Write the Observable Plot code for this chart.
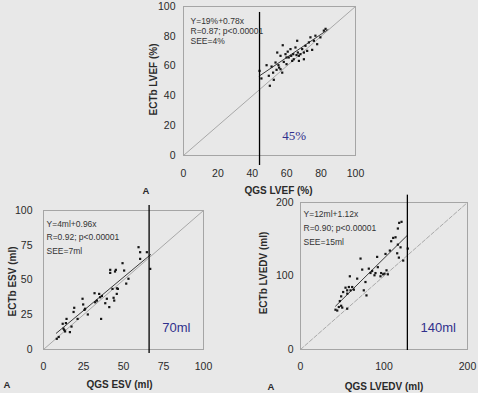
<!DOCTYPE html>
<html><head><meta charset="utf-8">
<script src="https://cdn.jsdelivr.net/npm/d3@7"></script>
<script src="https://cdn.jsdelivr.net/npm/@observablehq/plot@0.6"></script>
<style>
html,body{margin:0;padding:0;background:#e8e8e8;}
#wrap{position:relative;width:478px;height:393px;overflow:hidden;background:#e8e8e8;}
#wrap svg{position:absolute;}
</style></head><body><div id="wrap"></div>
<script>
// ---------- data ----------
const lvefTicks = [0, 20, 40, 60, 80, 100];
const esvTicks = [0, 25, 50, 75, 100];
const edvTicks = [0, 100, 200];

const lvefQGS  = [44.2,45.3,48.3,49.6,50.2,51.2,52.5,54.1,54.5,55.2,55.6,56.4,57.4,57.7,58.3,59.3,59.9,61.2,62.2,62.6,63.8,64.1,65.1,65.7,66.1,66.5,67.1,68.0,69.0,70.0,70.9,71.9,72.9,73.8,74.8,75.8,76.7,77.7,79.6,81.6,82.6,59.9,63.2,60.6,67.1,52.1,56.4,53.5,70.0];
const lvefECTb = [56.8,51.7,60.6,53.5,46.8,59.7,50.8,57.5,69.1,60.6,59.0,66.9,55.6,74.0,62.8,68.0,61.3,65.8,71.4,66.9,68.0,64.6,72.5,67.4,77.0,69.1,66.9,68.0,71.4,64.6,73.6,70.2,75.9,79.3,70.9,77.0,80.4,74.7,79.3,83.8,85.0,65.8,63.5,69.7,63.5,55.6,57.9,62.4,69.1];

const esvQGS  = [8.3,9.5,12.0,12.5,13.0,14.4,14.0,13.5,16.5,17.5,18.8,19.2,21.3,24.4,25.6,26.0,24.8,27.7,31.9,32.3,33.4,34.8,35.4,36.0,36.5,38.6,39.6,41.1,41.7,41.7,43.1,43.8,44.2,44.7,45.2,45.8,46.5,45.9,49.4,50.4,51.7,53.1,59.4,60.4,60.4,64.6,66.7];
const esvECTb = [7.7,9.0,18.5,15.0,14.0,22.0,19.0,13.0,12.5,16.5,27.0,30.0,22.0,36.5,28.5,29.3,32.4,25.2,40.5,34.0,35.2,40.0,37.6,22.0,38.5,33.3,36.5,30.5,57.3,55.1,43.6,37.2,35.2,56.1,57.3,40.0,43.6,44.0,62.1,56.8,47.4,50.9,73.6,70.0,65.2,70.0,58.0];

const edvQGS  = [41.9,44.0,45.9,48.7,50.0,55.9,47.1,48.7,51.1,53.9,55.9,57.9,56.0,59.9,61.9,59.1,63.9,67.9,71.9,73.9,75.8,77.8,79.0,81.8,83.8,85.8,88.6,89.8,91.8,92.6,95.8,96.6,99.0,100.6,103.0,101.8,104.6,107.0,108.6,111.0,113.8,115.8,116.6,118.2,121.0,116.6,119.8,128.5,117.8,123.0];
const edvECTb = [54.1,53.0,57.8,59.5,57.0,55.5,65.9,72.3,78.2,84.1,80.5,85.0,76.0,80.5,85.0,99.6,81.4,96.4,123.7,108.7,80.5,91.8,73.6,110.0,104.1,106.8,101.0,104.0,126.0,112.0,99.6,104.0,102.3,103.2,107.7,130.0,102.3,134.6,147.3,151.8,152.7,130.9,142.7,172.3,173.7,164.6,139.0,137.3,125.0,121.0];

// regression segments (x ends, y ends)
const lvefFitX = [44, 84],  lvefFitY = [53.3, 84.5];
const esvFitX  = [8, 67],   esvFitY  = [11.7, 68.3];
const edvFitX  = [42, 128], edvFitY  = [59, 155.4];

const cutoffs = [44.2, 66, 128];
const cutoffLabels = ["45%", "70ml", "140ml"];

const eqLVEF = ["Y=19%+0.78x", "R=0.87; p<0.00001", "SEE=4%"];
const eqESV  = ["Y=4ml+0.96x", "R=0.92; p<0.00001", "SEE=7ml"];
const eqEDV  = ["Y=12ml+1.12x", "R=0.90; p<0.00001", "SEE=15ml"];

const xTitles = ["QGS LVEF (%)", "QGS ESV (ml)", "QGS LVEDV (ml)"];
const yTitles = ["ECTb LVEF (%)", "ECTb ESV (ml)", "ECTb LVEDV (ml)"];
const panelTag = "A";

// ---------- drawing ----------
const SANS = "'Liberation Sans', Arial, sans-serif";
const SERIF = "'Liberation Serif', 'Times New Roman', serif";
const INK = "#2a2a2a";
const BLUE = "#30308c";

function panel(c) {
  const pts = c.xs.map((x, i) => ({x, y: c.ys[i]}));
  const fit = c.fitX.map((x, i) => ({x, y: c.fitY[i]}));
  const d0 = c.ticks[0], d1 = c.ticks[c.ticks.length - 1];
  const svg = Plot.plot({
    width: c.w, height: c.h,
    marginLeft: c.ml, marginRight: c.mr, marginTop: c.mt, marginBottom: c.mb,
    x: {domain: [d0, d1]},
    y: {domain: [d0, d1]},
    style: {background: "transparent", overflow: "visible", fontFamily: SANS, color: INK},
    marks: [
      Plot.frame({stroke: "#a5a5a5", strokeWidth: 1}),
      Plot.line([[d0, d0], [d1, d1]], {stroke: "#a8a8a8", strokeWidth: 1, strokeDasharray: c.idDash}),
      Plot.line(fit, {x: "x", y: "y", stroke: "#3a3a3a", strokeWidth: 1}),
      Plot.dot(pts, {x: "x", y: "y", symbol: "square", r: 1.25, fill: "#151515", stroke: null}),
      Plot.ruleX([c.cut], {y1: c.cutY[0], y2: c.cutY[1], stroke: "#000", strokeWidth: 1.3}),
      Plot.axisX({ticks: c.ticks, tickSize: 0, tickPadding: c.xPad, fontSize: 10.5, label: null, fill: INK}),
      Plot.axisY({ticks: c.ticks, tickSize: 0, tickPadding: c.yPad, fontSize: 10.5, label: null, fill: INK}),
      Plot.text([c.eq.join("\n")], {text: d => d, frameAnchor: "top-left", textAnchor: "start", lineAnchor: "top",
        dx: c.eqDx, dy: c.eqDy, lineHeight: c.eqLH, fontSize: 8.5, fill: "#333"}),
      Plot.text([c.cutLabel], {text: d => d, frameAnchor: "bottom-left", textAnchor: "start", lineAnchor: "middle",
        dx: c.cutDx, dy: c.cutDy, fontSize: 13, fill: BLUE, fontFamily: c.cutFont}),
      Plot.text([c.xTitle], {text: d => d, frameAnchor: "bottom", textAnchor: "middle", lineAnchor: "middle",
        dx: c.xtDx, dy: c.xtDy, fontSize: 10, fontWeight: "bold", fill: INK}),
      Plot.text([panelTag], {text: d => d, frameAnchor: "bottom-left", textAnchor: "start", lineAnchor: "middle",
        dx: c.aDx, dy: c.xtDy, fontSize: 9.5, fontWeight: "bold", fill: INK}),
      Plot.text([c.yTitle], {text: d => d, frameAnchor: "left", textAnchor: "middle", lineAnchor: "middle", rotate: -90,
        dx: c.ytDx, dy: c.ytDy, fontSize: 10, fontWeight: "bold", fill: INK})
    ]
  });
  svg.style.left = c.left + "px";
  svg.style.top = c.top + "px";
  svg.style.maxWidth = "none";
  document.getElementById("wrap").appendChild(svg);
}

panel({left: 120, top: 0, w: 250, h: 200, ml: 63, mr: 15, mt: 6, mb: 45,
  ticks: lvefTicks, xs: lvefQGS, ys: lvefECTb, fitX: lvefFitX, fitY: lvefFitY,
  cut: cutoffs[0], cutY: [-6.7, 96], cutLabel: cutoffLabels[0], cutFont: SERIF, cutDx: 98.7, cutDy: -20,
  eq: eqLVEF, eqDx: 7, eqDy: 10.3, eqLH: 1.18, idDash: null,
  xPad: 14, yPad: 8, xTitle: xTitles[0], xtDx: 9, xtDy: 35, aDx: -41,
  yTitle: yTitles[0], ytDx: -30, ytDy: -1.5});

panel({left: 0, top: 195, w: 215, h: 198, ml: 43, mr: 12, mt: 15, mb: 44,
  ticks: esvTicks, xs: esvQGS, ys: esvECTb, fitX: esvFitX, fitY: esvFitY,
  cut: cutoffs[1], cutY: [-2.9, 103.6], cutLabel: cutoffLabels[1], cutFont: SANS, cutDx: 118.7, cutDy: -21.3,
  eq: eqESV, eqDx: 3, eqDy: 6.3, eqLH: 1.61, idDash: null,
  xPad: 12.7, yPad: 11, xTitle: xTitles[1], xtDx: -4, xtDy: 35, aDx: -40,
  yTitle: yTitles[1], ytDx: -31, ytDy: 1.5});

panel({left: 240, top: 195, w: 238, h: 198, ml: 60, mr: 11, mt: 7, mb: 44,
  ticks: edvTicks, xs: edvQGS, ys: edvECTb, fitX: edvFitX, fitY: edvFitY,
  cut: cutoffs[2], cutY: [-1.4, 210], cutLabel: cutoffLabels[2], cutFont: SANS, cutDx: 120, cutDy: -21.3,
  eq: eqEDV, eqDx: 3, eqDy: 5, eqLH: 1.61, idDash: "4,2",
  xPad: 13, yPad: 7, xTitle: xTitles[2], xtDx: 0, xtDy: 37.5, aDx: -33,
  yTitle: yTitles[2], ytDx: -37, ytDy: -3});
</script>
</body></html>
